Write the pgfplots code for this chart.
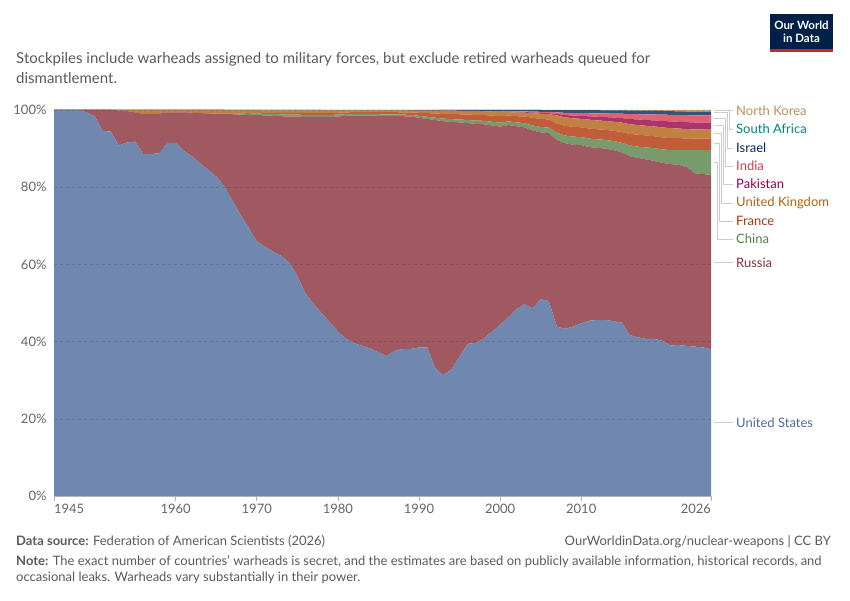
\documentclass[border=0pt]{standalone}
\usepackage{fontspec}
\setmainfont{Lato}
\usepackage{pgfplots}
\pgfplotsset{compat=1.18}
\usepackage{pgfplotstable}

\definecolor{cUS}{HTML}{4C6A9C}
\definecolor{cRU}{HTML}{883039}
\definecolor{cCN}{HTML}{578145}
\definecolor{cFR}{HTML}{B13507}
\definecolor{cUK}{HTML}{B16214}
\definecolor{cPK}{HTML}{970046}
\definecolor{cIN}{HTML}{D73C50}
\definecolor{cIL}{HTML}{00295B}
\definecolor{cZA}{HTML}{00847E}
\definecolor{cKP}{HTML}{BC8E5A}
\definecolor{textgray}{HTML}{5B5B5B}
\definecolor{tickgray}{HTML}{666666}
\definecolor{linegray}{HTML}{CCCCCC}
\definecolor{logoblue}{HTML}{002147}
\definecolor{logored}{HTML}{CE261E}

% share of world stockpile, percent
\pgfplotstableread{
year US RU CN FR UK PK IN IL ZA KP
1945 100 0 0 0 0 0 0 0 0 0
1946 100 0 0 0 0 0 0 0 0 0
1947 100 0 0 0 0 0 0 0 0 0
1948 100 0 0 0 0 0 0 0 0 0
1949 99.4 0.6 0 0 0 0 0 0 0 0
1950 98.4 1.6 0 0 0 0 0 0 0 0
1951 94.6 5.4 0 0 0 0 0 0 0 0
1952 94.4 5.6 0 0 0 0 0 0 0 0
1953 90.8 9.1 0 0 0.1 0 0 0 0 0
1954 91.6 8.1 0 0 0.3 0 0 0 0 0
1955 91.8 7.6 0 0 0.6 0 0 0 0 0
1956 88.6 10.4 0 0 1.0 0 0 0 0 0
1957 88.6 10.3 0 0 1.1 0 0 0 0 0
1958 88.8 10.3 0 0 0.9 0 0 0 0 0
1959 91.5 7.9 0 0 0.6 0 0 0 0 0
1960 91.5 7.9 0 0 0.6 0 0 0 0 0
1961 89.4 10.0 0 0 0.6 0 0 0 0 0
1962 88.0 11.3 0 0 0.7 0 0 0 0 0
1963 86.2 13.0 0 0 0.8 0 0 0 0 0
1964 84.5 14.6 0.02 0.03 0.85 0 0 0 0 0
1965 82.8 16.2 0.07 0.08 0.85 0 0 0 0 0
1966 80.2 18.8 0.12 0.10 0.78 0 0 0 0 0
1967 76.5 22.4 0.17 0.13 0.78 0 0 0.02 0 0
1968 72.8 26.0 0.24 0.16 0.76 0 0 0.04 0 0
1969 69.5 29.2 0.32 0.20 0.73 0 0 0.05 0 0
1970 66.0 32.7 0.36 0.22 0.66 0 0 0.06 0 0
1971 64.6 34.0 0.40 0.26 0.67 0 0 0.07 0 0
1972 63.3 35.2 0.45 0.33 0.65 0 0 0.07 0 0
1973 62.2 36.2 0.48 0.40 0.64 0 0 0.08 0 0
1974 60.5 37.8 0.50 0.46 0.66 0 0 0.08 0 0
1975 57.0 41.3 0.50 0.46 0.66 0 0 0.08 0 0
1976 52.5 45.7 0.52 0.50 0.70 0 0 0.08 0 0
1977 49.8 48.4 0.52 0.50 0.70 0 0 0.08 0 0
1978 47.3 50.9 0.52 0.50 0.70 0 0 0.08 0 0
1979 45.0 53.2 0.52 0.50 0.68 0 0 0.08 0.02 0
1980 42.6 55.7 0.50 0.48 0.62 0 0 0.08 0.02 0
1981 40.8 57.7 0.44 0.45 0.53 0 0 0.07 0.01 0
1982 39.6 59.0 0.40 0.45 0.47 0 0 0.07 0.01 0
1983 38.9 59.7 0.40 0.45 0.47 0 0 0.07 0.01 0
1984 38.2 60.4 0.40 0.45 0.47 0 0 0.07 0.01 0
1985 37.2 61.3 0.40 0.52 0.48 0 0 0.08 0.02 0
1986 36.3 62.2 0.38 0.55 0.47 0 0 0.08 0.02 0
1987 37.6 60.9 0.38 0.55 0.47 0 0 0.08 0.02 0
1988 38.1 60.3 0.40 0.60 0.48 0 0 0.09 0.03 0
1989 38.1 60.2 0.42 0.66 0.49 0 0 0.10 0.03 0
1990 38.5 59.5 0.48 0.80 0.58 0 0 0.11 0.03 0
1991 38.5 59.2 0.55 0.95 0.65 0 0 0.12 0.03 0
1992 33.1 64.3 0.60 1.10 0.75 0 0 0.15 0 0
1993 31.3 65.8 0.68 1.20 0.85 0 0 0.17 0 0
1994 32.8 64.1 0.72 1.30 0.90 0 0 0.18 0 0
1995 36.1 60.7 0.75 1.35 0.90 0 0 0.20 0 0
1996 39.4 57.2 0.80 1.40 0.97 0 0 0.23 0 0
1997 39.7 56.7 0.85 1.50 1.00 0 0 0.25 0 0
1998 40.8 55.5 0.90 1.50 1.00 0.02 0.02 0.26 0 0
1999 42.6 53.4 0.95 1.60 1.00 0.05 0.10 0.30 0 0
2000 44.3 51.4 1.00 1.70 1.05 0.08 0.12 0.35 0 0
2001 46.3 49.8 0.95 1.50 0.90 0.10 0.13 0.32 0 0
2002 48.4 47.4 1.00 1.60 0.95 0.14 0.16 0.35 0 0
2003 49.7 45.8 1.10 1.70 1.00 0.15 0.18 0.37 0 0
2004 48.6 46.1 1.30 2.00 1.20 0.18 0.20 0.42 0 0
2005 51.0 43.2 1.40 2.10 1.30 0.26 0.27 0.47 0 0
2006 50.5 43.5 1.45 2.10 1.35 0.29 0.30 0.50 0 0.01
2007 43.9 48.3 1.90 2.40 2.10 0.40 0.40 0.60 0 0
2008 43.3 48.1 2.00 2.50 2.20 0.60 0.55 0.70 0 0.05
2009 43.9 47.1 2.10 2.55 2.20 0.70 0.65 0.75 0 0.05
2010 44.7 46.2 2.10 2.50 2.20 0.78 0.72 0.75 0 0.05
2011 45.4 45.0 2.20 2.60 2.30 0.85 0.80 0.80 0 0.05
2012 45.6 44.6 2.20 2.60 2.30 0.95 0.90 0.80 0 0.05
2013 45.6 44.4 2.25 2.60 2.30 1.00 0.95 0.80 0 0.10
2014 45.3 44.3 2.35 2.65 2.35 1.08 1.05 0.82 0 0.10
2015 44.9 44.1 2.50 2.80 2.45 1.15 1.15 0.85 0 0.10
2016 41.7 46.3 2.80 3.00 2.50 1.35 1.30 0.90 0 0.15
2017 41.1 46.5 2.90 3.10 2.50 1.45 1.35 0.95 0 0.15
2018 40.7 46.5 3.10 3.10 2.50 1.50 1.45 0.95 0 0.20
2019 40.7 46.1 3.30 3.10 2.55 1.55 1.55 0.95 0 0.20
2020 40.2 46.1 3.50 3.10 2.60 1.65 1.65 0.95 0 0.25
2021 39.0 47.0 3.60 3.10 2.60 1.75 1.70 0.95 0 0.30
2022 39.1 46.7 3.80 3.10 2.50 1.75 1.75 0.95 0 0.35
2023 38.9 46.3 4.40 3.05 2.40 1.80 1.80 0.95 0 0.40
2024 38.7 44.9 6.00 3.00 2.35 1.80 1.85 0.95 0 0.45
2025 38.5 44.9 6.20 3.00 2.35 1.80 1.85 0.95 0 0.45
2026 38.0 45.2 6.40 3.00 2.30 1.80 1.90 0.95 0 0.45
}\nukes

\begin{document}
\begin{tikzpicture}[x=1pt,y=1pt]
\fill[white] (0,0) rectangle (850,600);
\path[use as bounding box] (0,0) rectangle (850,600);

\begin{axis}[
  at={(54pt,104pt)}, anchor=south west,
  scale only axis, width=657pt, height=386pt,
  xmin=1945, xmax=2026, ymin=0, ymax=100,
  stack plots=y,
  axis on top,
  axis x line*=bottom,
  axis y line*=left,
  y axis line style={draw=none},
  x axis line style={draw=gray!60, line width=0.6pt},
  xtick={1945,1960,1970,1980,1990,2000,2010,2026},
  xticklabels={\makebox[0pt][l]{1945},1960,1970,1980,1990,2000,2010,\makebox[0pt][r]{2026}},
  ytick={0,20,40,60,80,100},
  yticklabels={0\%,20\%,40\%,60\%,80\%,100\%},
  ymajorgrids,
  grid style={black, opacity=0.15, dash pattern=on 3pt off 3pt, line width=0.5pt},
  tick align=outside,
  xtick style={draw=gray!60, line width=0.6pt},
  ytick style={draw=none},
  major tick length=5pt,
  tick label style={font=\fontsize{13}{13}\selectfont, text=tickgray},
  yticklabel style={xshift=1pt},
]
\addplot [fill=cUS!80!white, draw=none] table [x=year, y=US] {\nukes} \closedcycle;
\addplot [fill=cRU!80!white, draw=none] table [x=year, y=RU] {\nukes} \closedcycle;
\addplot [fill=cCN!80!white, draw=none] table [x=year, y=CN] {\nukes} \closedcycle;
\addplot [fill=cFR!80!white, draw=none] table [x=year, y=FR] {\nukes} \closedcycle;
\addplot [fill=cUK!80!white, draw=none] table [x=year, y=UK] {\nukes} \closedcycle;
\addplot [fill=cPK!80!white, draw=none] table [x=year, y=PK] {\nukes} \closedcycle;
\addplot [fill=cIN!80!white, draw=none] table [x=year, y=IN] {\nukes} \closedcycle;
\addplot [fill=cIL!80!white, draw=none] table [x=year, y=IL] {\nukes} \closedcycle;
\addplot [fill=cZA!80!white, draw=none] table [x=year, y=ZA] {\nukes} \closedcycle;
\addplot [fill=cKP!80!white, draw=none] table [x=year, y=KP] {\nukes} \closedcycle;
\end{axis}

% connectors to the labels
\begin{scope}[draw=linegray, line width=0.8pt]
\draw (714,489.1) -- (733,489.1);
\draw (714,490) -- (729.5,490) -- (729.5,471) -- (733,471);
\draw (714,487.3) -- (727.5,487.3) -- (727.5,452) -- (733,452);
\draw (714,482) -- (725.5,482) -- (725.5,434) -- (733,434);
\draw (714,475) -- (723.5,475) -- (723.5,416) -- (733,416);
\draw (714,467) -- (721.5,467) -- (721.5,397) -- (733,397);
\draw (714,456.4) -- (719.5,456.4) -- (719.5,379) -- (733,379);
\draw (714,437.5) -- (717.5,437.5) -- (717.5,361) -- (733,361);
\draw (714,338) -- (733,338);
\draw (714,177.5) -- (733,177.5);
\end{scope}

\begin{scope}[every node/.style={anchor=west, inner sep=0pt, font=\fontsize{13}{13}\selectfont}]
\node[text=cKP] at (736,489) {North Korea};
\node[text=cZA] at (736,471) {South Africa};
\node[text=cIL] at (736,452) {Israel};
\node[text=cIN] at (736,434) {India};
\node[text=cPK] at (736,416) {Pakistan};
\node[text=cUK] at (736,397) {United Kingdom};
\node[text=cFR] at (736,379) {France};
\node[text=cCN] at (736,361) {China};
\node[text=cRU] at (736,337) {Russia};
\node[text=cUS] at (736,177) {United States};
\end{scope}

% subtitle
\node[anchor=north west, inner sep=0pt, align=left, text=textgray,
  font=\fontsize{15}{20}\selectfont] at (16,548)
  {Stockpiles include warheads assigned to military forces, but exclude retired warheads queued for\\dismantlement.};

% logo
\fill[logoblue] (770,586) rectangle (833,548);
\fill[logored] (770,551) rectangle (833,548);
\node[text=white, align=center, inner sep=0pt,
  font=\bfseries\fontsize{11.5}{13}\selectfont] at (801.5,568) {Our World\\in Data};

% footer
\node[anchor=base west, inner sep=0pt, text=textgray, font=\fontsize{13}{13}\selectfont]
  at (16,55) {\textbf{Data source:} Federation of American Scientists (2026)};
\node[anchor=base east, inner sep=0pt, text=textgray, font=\fontsize{13}{13}\selectfont]
  at (831,55) {OurWorldinData.org/nuclear-weapons | CC BY};
\node[anchor=north west, inner sep=0pt, align=left, text=textgray,
  font=\fontsize{13}{16}\selectfont] at (16,45)
  {\textbf{Note:} The exact number of countries' warheads is secret, and the estimates are based on publicly available information, historical records, and\\occasional leaks. Warheads vary substantially in their power.};
\end{tikzpicture}
\end{document}
